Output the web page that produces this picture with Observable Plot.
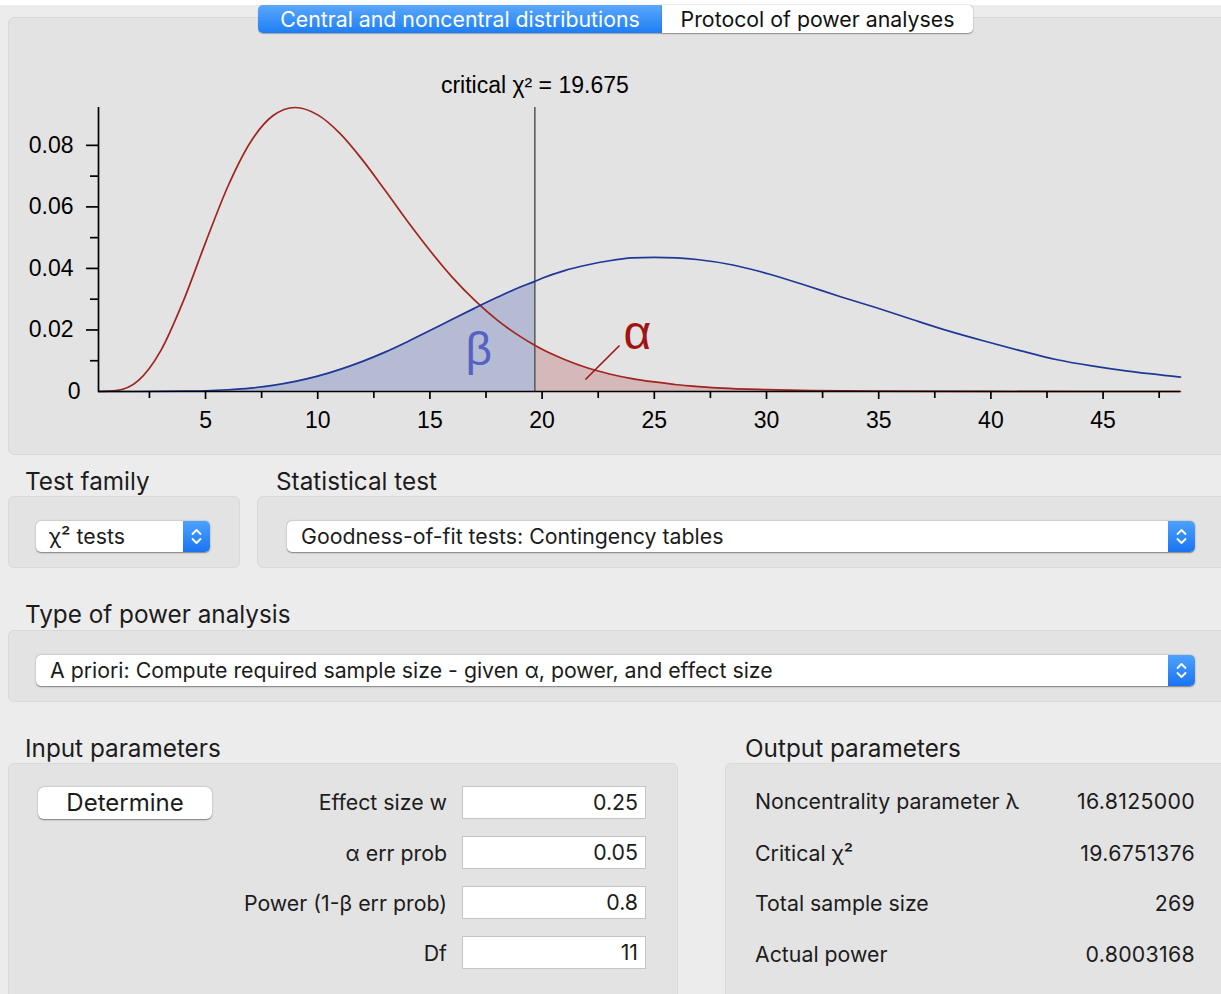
<!DOCTYPE html>
<html>
<head>
<meta charset="utf-8">
<script src="https://cdn.jsdelivr.net/npm/d3@7"></script>
<script src="https://cdn.jsdelivr.net/npm/@observablehq/plot@0.6"></script>
<style>
  html, body { margin: 0; padding: 0; }
  body { width: 1221px; height: 994px; background: #ececec; position: relative; overflow: hidden;
         font-family: Inter, "Noto Sans", "Liberation Sans", sans-serif; color: #1c1c1c; }
  .abs { position: absolute; }
  .panel { position: absolute; background: #e3e3e3; border: 1px solid #d9d9d9; border-radius: 6px; box-sizing: border-box; }
  .lbl { position: absolute; font-size: 24.3px; line-height: 28px; white-space: nowrap; }
  .sel { position: absolute; background: #fff; border-radius: 5px; box-shadow: 0 0.5px 1.5px rgba(0,0,0,0.45); height: 31px;
         font-size: 21.3px; line-height: 31px; white-space: nowrap; box-sizing: border-box; }
  .step { position: absolute; top: 0; right: 0; width: 27px; height: 31px; border-radius: 0 5px 5px 0;
          background: linear-gradient(#4da2fd, #1a74f2); }
  .field { position: absolute; left: 462px; width: 184px; height: 33px; background: #fff; border: 1px solid #c4c4c4;
           box-sizing: border-box; font-size: 21.3px; line-height: 31px; text-align: right; padding-right: 7px; }
  .ilbl { position: absolute; left: 150px; width: 297px; text-align: right; font-size: 21.3px; line-height: 28px; white-space: nowrap; }
  .olbl { position: absolute; left: 755px; font-size: 21.3px; line-height: 28px; white-space: nowrap; }
  .oval { position: absolute; left: 950px; width: 245px; text-align: right; font-size: 21.3px; line-height: 28px; letter-spacing: 0.3px; }
</style>
</head>
<body>
<div class="abs" style="left:0;top:0;width:1221px;height:5px;background:#fff"></div>
<div class="panel" style="left:8px;top:17px;width:1230px;height:438px;"></div>
<div class="abs" style="left:258px;top:5px;width:404px;height:28px;border-radius:5px 0 0 5px;background:linear-gradient(#5aa8fc,#1f7ef5);color:#fff;font-size:21.3px;line-height:28px;text-align:center;box-shadow:0 0.5px 1px rgba(0,0,0,0.3)">Central and noncentral distributions</div>
<div class="abs" style="left:662px;top:5px;width:311px;height:28px;border-radius:0 5px 5px 0;background:#fff;color:#111;font-size:21.3px;line-height:28px;text-align:center;box-shadow:0 0.5px 1.5px rgba(0,0,0,0.4)">Protocol of power analyses</div>
<div id="chart" class="abs" style="left:0;top:0;"></div>

<div class="lbl" style="left:25px;top:467px">Test family</div>
<div class="lbl" style="left:276px;top:467px">Statistical test</div>
<div class="panel" style="left:8px;top:496px;width:232px;height:72px"></div>
<div class="panel" style="left:257px;top:496px;width:980px;height:72px"></div>
<div class="sel" style="left:36px;top:521px;width:174px;padding-left:13px">χ² tests<div class="step"><svg width="27" height="31"><path d="M9.5 13 L13.5 9 L17.5 13 M9.5 18 L13.5 22 L17.5 18" stroke="#fff" stroke-width="1.8" fill="none" stroke-linecap="round" stroke-linejoin="round"/></svg></div></div>
<div class="sel" style="left:287px;top:521px;width:908px;padding-left:14px">Goodness-of-fit tests: Contingency tables<div class="step"><svg width="27" height="31"><path d="M9.5 13 L13.5 9 L17.5 13 M9.5 18 L13.5 22 L17.5 18" stroke="#fff" stroke-width="1.8" fill="none" stroke-linecap="round" stroke-linejoin="round"/></svg></div></div>

<div class="lbl" style="left:25px;top:600px">Type of power analysis</div>
<div class="panel" style="left:8px;top:630px;width:1230px;height:72px"></div>
<div class="sel" style="left:36px;top:655px;width:1159px;padding-left:14px">A priori: Compute required sample size - given α, power, and effect size<div class="step"><svg width="27" height="31"><path d="M9.5 13 L13.5 9 L17.5 13 M9.5 18 L13.5 22 L17.5 18" stroke="#fff" stroke-width="1.8" fill="none" stroke-linecap="round" stroke-linejoin="round"/></svg></div></div>

<div class="lbl" style="left:25px;top:734px">Input parameters</div>
<div class="lbl" style="left:745px;top:734px">Output parameters</div>
<div class="panel" style="left:8px;top:763px;width:670px;height:250px"></div>
<div class="panel" style="left:725px;top:763px;width:510px;height:250px"></div>

<div class="abs" style="left:38px;top:787px;width:174px;height:32px;background:#fff;border-radius:6px;box-shadow:0 0.5px 1.5px rgba(0,0,0,0.45);font-size:24px;line-height:32px;text-align:center">Determine</div>

<div class="ilbl" style="top:788px">Effect size w</div>
<div class="ilbl" style="top:839px">α err prob</div>
<div class="ilbl" style="top:889px">Power (1-β err prob)</div>
<div class="ilbl" style="top:939px">Df</div>
<div class="field" style="top:786px">0.25</div>
<div class="field" style="top:836px">0.05</div>
<div class="field" style="top:886px">0.8</div>
<div class="field" style="top:936px">11</div>

<div class="olbl" style="top:787px">Noncentrality parameter λ</div>
<div class="olbl" style="top:839px">Critical χ²</div>
<div class="olbl" style="top:889px">Total sample size</div>
<div class="olbl" style="top:940px">Actual power</div>
<div class="oval" style="top:787px">16.8125000</div>
<div class="oval" style="top:839px">19.6751376</div>
<div class="oval" style="top:889px">269</div>
<div class="oval" style="top:940px">0.8003168</div>

<script>
// Central chi-square (df = 11) density
const centralX = [0.23, 1, 2, 3, 4, 5, 6, 7, 8, 9, 10, 11, 12, 13, 14, 15, 16, 17, 18, 19, 19.675, 20, 21, 22, 23, 24, 25, 26, 27, 28, 30, 32, 35, 40, 48.45];
const centralY = [0, 0.00026, 0.0035, 0.0132, 0.0292, 0.0484, 0.0667, 0.0810, 0.0896, 0.0923, 0.0899, 0.0838, 0.0752, 0.0654, 0.0553, 0.0458, 0.0371, 0.0296, 0.0232, 0.0180, 0.0150, 0.0137, 0.0104, 0.0077, 0.0057, 0.0042, 0.0031, 0.0022, 0.0016, 0.0011, 0.0006, 0.0003, 0.0001, 0.00001, 0];
// Noncentral chi-square (df = 11, lambda = 16.8125) density
const noncentralX = [0.23, 2, 4, 5, 6, 7, 8, 9, 10, 11, 12, 13, 14, 15, 16, 17, 18, 19, 19.675, 20, 21, 22, 23, 24, 25, 26, 26.9, 28.5, 30.1, 31.7, 33.3, 34.9, 36.5, 38.1, 39.7, 41.3, 42.9, 44.5, 46.1, 48.45];
const noncentralY = [0, 0, 0.0001, 0.00025, 0.00057, 0.0011, 0.0020, 0.0033, 0.0050, 0.0072, 0.0098, 0.0128, 0.0162, 0.0198, 0.0235, 0.0271, 0.0306, 0.0339, 0.0358, 0.0368, 0.0393, 0.0411, 0.0425, 0.0434, 0.0436, 0.0434, 0.0429, 0.0411, 0.0382, 0.0346, 0.0308, 0.0272, 0.0234, 0.0197, 0.0164, 0.0133, 0.0104, 0.0083, 0.0066, 0.0047];
const criticalValue = [19.675];
const criticalLabel = ["critical χ² = 19.675"];
const xMajorTicks = [5, 10, 15, 20, 25, 30, 35, 40, 45];
const xMinorTicks = [2.5, 7.5, 12.5, 17.5, 22.5, 27.5, 32.5, 37.5, 42.5, 47.5];
const yMajorTicks = [0.02, 0.04, 0.06, 0.08];
const yMinorTicks = [0.01, 0.03, 0.05, 0.07];
const xDomain = [0.23, 48.45];
const yDomain = [0, 0.0923];
const betaLabel = [{x: 17.17, y: 0.0133, t: "β"}];
const alphaLabel = [{x: 24.25, y: 0.0189, t: "α"}];
const alphaPointer = [{x1: 21.93, y1: 0.0039, x2: 23.45, y2: 0.01495}];

const crit = criticalValue[0];
const central = centralX.map((x, i) => ({x, y: centralY[i]}));
const noncentral = noncentralX.map((x, i) => ({x, y: noncentralY[i]}));
const beta = noncentral.filter(d => d.x <= crit);
const alpha = central.filter(d => d.x >= crit);

const chart = Plot.plot({
  width: 1221, height: 455,
  marginLeft: 98, marginRight: 41, marginTop: 107, marginBottom: 64,
  x: {domain: xDomain, label: null},
  y: {domain: yDomain, label: null},
  style: {background: "transparent", fontFamily: "'Liberation Sans', Arial, sans-serif", fontSize: "23px", color: "#000", overflow: "visible"},
  marks: [
    Plot.areaY(beta, {x: "x", y: "y", fill: "#b4bbd3", curve: "monotone-x"}),
    Plot.areaY(alpha, {x: "x", y: "y", fill: "#d5b8b9", curve: "monotone-x"}),
    Plot.ruleX(criticalValue, {y1: yDomain[0], y2: yDomain[1], stroke: "#5e5e5e", strokeWidth: 1.6}),
    Plot.line(central, {x: "x", y: "y", stroke: "#a0241f", strokeWidth: 1.7, curve: "monotone-x"}),
    Plot.line(noncentral, {x: "x", y: "y", stroke: "#1f3797", strokeWidth: 1.7, curve: "monotone-x"}),
    Plot.ruleY([0], {stroke: "#000", strokeWidth: 1.7}),
    Plot.ruleX([xDomain[0]], {y1: yDomain[0], y2: yDomain[1], stroke: "#000", strokeWidth: 1.7}),
    Plot.axisX(xMajorTicks, {tickSize: 8, tickPadding: 12, strokeWidth: 1.7, label: null, tickFormat: d => String(d)}),
    Plot.axisX(xMinorTicks, {tickSize: 7, strokeWidth: 1.7, label: null, tickFormat: () => ""}),
    Plot.axisY(yMajorTicks, {tickSize: 12, tickPadding: 13, strokeWidth: 1.7, label: null, tickFormat: d => d.toFixed(2)}),
    Plot.axisY(yMinorTicks, {tickSize: 8, strokeWidth: 1.7, label: null, tickFormat: () => ""}),
    Plot.axisY([0], {tickSize: 0, tickPadding: 18, label: null, tickFormat: () => "0"}),
    Plot.text(criticalValue, {x: d => d, frameAnchor: "top", lineAnchor: "middle", dy: -22, text: (d, i) => criticalLabel[i], fontSize: 23, fill: "#000"}),
    Plot.text(betaLabel, {x: "x", y: "y", text: "t", fontSize: 46, fill: "#5561c4"}),
    Plot.link(alphaPointer, {x1: "x1", y1: "y1", x2: "x2", y2: "y2", stroke: "#a01616", strokeWidth: 1.6}),
    Plot.text(alphaLabel, {x: "x", y: "y", text: "t", fontSize: 48, fill: "#a01414"})
  ]
});
document.getElementById("chart").appendChild(chart);
</script>
</body>
</html>
